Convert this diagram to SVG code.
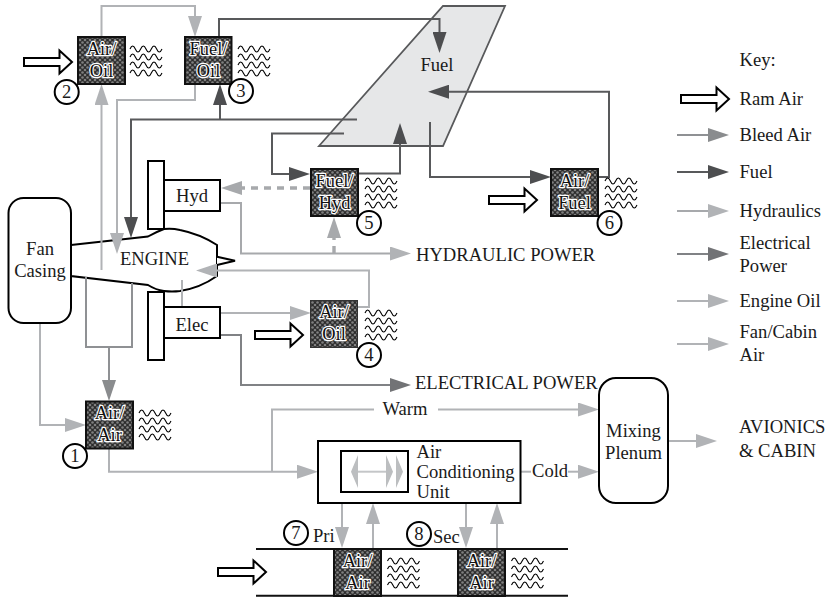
<svg xmlns="http://www.w3.org/2000/svg" xmlns:xlink="http://www.w3.org/1999/xlink" width="829" height="599" viewBox="0 0 829 599">
<style>
text{font-family:"Liberation Serif","Times New Roman",serif;font-size:18.6px;fill:#1a1a1a}
.m{text-anchor:middle}
.hx{font-size:18.4px;text-anchor:middle;fill:#111;stroke:#fff;stroke-width:2.4px;paint-order:stroke;stroke-linejoin:round}
.box{fill:url(#hatch);stroke:#111;stroke-width:2}
.shape{fill:#fff;stroke:#000;stroke-width:2}
.c{fill:none;stroke-width:2}
.fuel{stroke:#58595b;marker-end:url(#aFuel)}
.fuelp{stroke:#58595b}
.oil{stroke:#b1b3b6;marker-end:url(#aOil)}
.oilp{stroke:#b1b3b6}
.bleed{stroke:#8f9194;marker-end:url(#aBleed)}
.bleedp{stroke:#8f9194}
.elec{stroke:#808285;marker-end:url(#aElec)}
.hyd{stroke:#a7a9ac;marker-end:url(#aOil)}
.dash{stroke:#a7a9ac;stroke-width:3.4;stroke-dasharray:7 6;marker-end:url(#aHyd)}
.num{fill:#fff;stroke:#000;stroke-width:2}
.wv{fill:none;stroke:#000;stroke-width:1.1}
</style>
<defs>
<pattern id="hatch" width="5" height="5" patternUnits="userSpaceOnUse">
<rect width="5" height="5" fill="#2c2c2c"/>
<circle cx="0" cy="0" r="1.3" fill="#808080"/><circle cx="5" cy="0" r="1.3" fill="#808080"/><circle cx="0" cy="5" r="1.3" fill="#808080"/><circle cx="5" cy="5" r="1.3" fill="#808080"/><circle cx="2.500" cy="2.500" r="1.3" fill="#808080"/>
</pattern>
<marker id="aFuel" markerUnits="userSpaceOnUse" markerWidth="21" markerHeight="14" refX="0" refY="7" orient="auto"><path d="M0,0L21,7L0,14Z" fill="#4d4e50"/></marker>
<marker id="aOil" markerUnits="userSpaceOnUse" markerWidth="21" markerHeight="14" refX="0" refY="7" orient="auto"><path d="M0,0L21,7L0,14Z" fill="#b1b3b6"/></marker>
<marker id="aHyd" markerUnits="userSpaceOnUse" markerWidth="21" markerHeight="14" refX="0" refY="7" orient="auto"><path d="M0,0L21,7L0,14Z" fill="#a7a9ac"/></marker>
<marker id="aBleed" markerUnits="userSpaceOnUse" markerWidth="21" markerHeight="14" refX="0" refY="7" orient="auto"><path d="M0,0L21,7L0,14Z" fill="#8a8c8e"/></marker>
<marker id="aElec" markerUnits="userSpaceOnUse" markerWidth="21" markerHeight="14" refX="0" refY="7" orient="auto"><path d="M0,0L21,7L0,14Z" fill="#727376"/></marker>
<path id="ram" d="M0,-4H35.500V-11.500L48,0L35.500,11.500V4H0Z" fill="#fff" stroke="#000" stroke-width="2"/>
<g id="waves" class="wv">
<path d="M0,0q2.670,-6 5.330,0t5.330,0t5.330,0t5.330,0t5.330,0t5.330,0"/>
<path d="M0,8q2.670,-6 5.330,0t5.330,0t5.330,0t5.330,0t5.330,0t5.330,0"/>
<path d="M0,16q2.670,-6 5.330,0t5.330,0t5.330,0t5.330,0t5.330,0t5.330,0"/>
<path d="M0,24q2.670,-6 5.330,0t5.330,0t5.330,0t5.330,0t5.330,0t5.330,0"/>
</g>
</defs>
<rect width="829" height="599" fill="#fff"/>

<g id="wing">
<path d="M443,6H505L443,146H319Z" fill="#e6e7e8" stroke="#58595b" stroke-width="1.8"/>
<text x="437" y="71" class="m">Fuel</text>
</g>
<g id="engine">
<path d="M71,245L148,236.500Q156,232 164,229Q172,228 180,230Q200,234 217,245V276Q200,288 180,291Q172,292 164,291Q156,290 148,285L71,276Z" fill="#fff" stroke="#000" stroke-width="2"/>
<path d="M217,256.700L235,260.700L217,265" fill="#fff" stroke="#000" stroke-width="2"/>
<text x="154.500" y="265" class="m">ENGINE</text>
</g>

<g id="connectors">
<path class="c oil" d="M101.500,37V6H195V16"/>
<path class="c oil" d="M101.500,270V105"/>
<path class="c oil" d="M195,84V100H117V233"/>
<path class="c oil" d="M40,323V425H65"/>
<path class="c bleed" d="M109,347V380"/>
<path class="c bleedp" d="M86,277V347H132V283"/>
<path class="c fuel" d="M219,37V19H439.500V32"/>
<path class="c fuel" d="M220,120V105"/>
<path class="c fuel" d="M357,119.500H131V217"/>
<path class="c fuel" d="M344,133.500H272V174H289"/>
<path class="c fuel" d="M358,173.500H400V144"/>
<path class="c fuel" d="M430,122V177H530"/>
<path class="c fuel" d="M598,177H609V91.700H449"/>
<path class="c hyd" d="M220,203H241V253.500H390"/>
<path class="c elec" d="M220,335H241V385H390"/>
<path class="c dash" d="M310,188H242"/>
<path class="c dash" d="M334,253V238"/>
<path class="c oil" d="M358,307H369V270.500H217"/>
<path class="c oil" d="M182,280V313H290"/>
<path class="c oil" d="M109,449V471.700H297"/>
<path class="c oilp" d="M272,471.700V409.500H374"/>
<path class="c oil" d="M438,409.500H578"/>
<path class="c oilp" d="M521,471.700H531"/>
<path class="c oil" d="M568,471.700H578"/>
<path class="c oil" d="M668,441H696"/>
<path class="c oil" d="M342,503V527"/>
<path class="c oil" d="M373,549V524"/>
<path class="c oil" d="M466,503V527"/>
<path class="c oil" d="M497,549V524"/>
<path class="c fuelp" d="M256,549H568M256,595.700H568" style="stroke:#111"/>
</g>

<g id="fan-casing">
<rect x="8.500" y="198" width="62.500" height="125" rx="15" class="shape"/>
<text x="40" y="255" class="m">Fan</text><text x="40" y="277" class="m">Casing</text>
</g>
<g id="hyd">
<rect x="148" y="161" width="16" height="68" class="shape"/>
<rect x="164" y="180" width="56" height="31" class="shape"/>
<text x="192" y="202" class="m">Hyd</text>
</g>
<g id="elec">
<rect x="148" y="292" width="16" height="68" class="shape"/>
<rect x="164" y="307" width="56" height="31" class="shape"/>
<text x="192" y="331" class="m">Elec</text>
</g>

<g id="hx2">
<use href="#ram" x="24" y="62"/>
<rect x="78" y="37" width="47" height="47" class="box"/>
<text x="101.500" y="55" class="hx">Air/</text><text x="101.500" y="77" class="hx">Oil</text>
<use href="#waves" x="130" y="49"/>
<circle cx="66.700" cy="92" r="12" class="num"/><text x="66.700" y="98" class="m">2</text>
</g>
<g id="hx3">
<rect x="185" y="37" width="46.500" height="47" class="box"/>
<text x="208.500" y="55" class="hx">Fuel/</text><text x="208.500" y="77" class="hx">Oil</text>
<use href="#waves" x="238" y="49"/>
<circle cx="241" cy="91" r="12" class="num"/><text x="241" y="97" class="m">3</text>
</g>
<g id="hx5">
<rect x="311" y="169" width="47" height="47" class="box"/>
<text x="334.500" y="187" class="hx">Fuel/</text><text x="334.500" y="209" class="hx">Hyd</text>
<use href="#waves" x="365" y="181"/>
<circle cx="369" cy="223" r="12" class="num"/><text x="369" y="229" class="m">5</text>
</g>
<g id="hx6">
<use href="#ram" x="489" y="200"/>
<rect x="551" y="169" width="47" height="47" class="box"/>
<text x="574.500" y="187" class="hx">Air/</text><text x="574.500" y="209" class="hx">Fuel</text>
<use href="#waves" x="605" y="181"/>
<circle cx="609.500" cy="223" r="12" class="num"/><text x="609.500" y="229" class="m">6</text>
</g>
<g id="hx4">
<use href="#ram" x="255" y="335"/>
<rect x="310.500" y="300.500" width="47" height="47" class="box" style="stroke:#333;stroke-width:1"/>
<text x="334" y="318" class="hx">Air/</text><text x="334" y="340" class="hx">Oil</text>
<use href="#waves" x="365" y="313"/>
<circle cx="369" cy="355" r="12" class="num"/><text x="369" y="361" class="m">4</text>
</g>
<g id="hx1">
<rect x="86" y="401.500" width="47" height="47" class="box"/>
<text x="109.500" y="419" class="hx">Air/</text><text x="109.500" y="441" class="hx">Air</text>
<use href="#waves" x="139" y="413"/>
<circle cx="75" cy="456" r="12" class="num"/><text x="75" y="462" class="m">1</text>
</g>
<g id="hx7">
<use href="#ram" x="218" y="572"/>
<rect x="334" y="549" width="47" height="47" class="box"/>
<text x="357.500" y="567" class="hx">Air/</text><text x="357.500" y="589" class="hx">Air</text>
<use href="#waves" x="387.500" y="561"/>
<circle cx="296" cy="533" r="12" class="num"/><text x="296" y="539" class="m">7</text>
<text x="313" y="542">Pri</text>
</g>
<g id="hx8">
<rect x="458" y="549" width="47" height="47" class="box"/>
<text x="481.500" y="567" class="hx">Air/</text><text x="481.500" y="589" class="hx">Air</text>
<use href="#waves" x="511.500" y="561"/>
<circle cx="419" cy="534" r="12" class="num"/><text x="419" y="540" class="m">8</text>
<text x="433" y="543">Sec</text>
</g>

<g id="ac-unit">
<rect x="318" y="441" width="202.500" height="62" class="shape"/>
<rect x="341" y="451" width="67" height="41" fill="#fff" stroke="#000" stroke-width="2"/>
<path d="M358,471.700H386" stroke="#c4c6c8" stroke-width="2" fill="none"/>
<path d="M351,471.700L358,455V488ZM386,455L393,471.700L386,488ZM396,455L403,471.700L396,488Z" fill="#bcbec0"/>
<text x="416.500" y="458">Air</text><text x="416.500" y="478">Conditioning</text><text x="416.500" y="498">Unit</text>
</g>
<g id="mixing-plenum">
<rect x="599" y="378" width="69" height="125" rx="17" class="shape"/>
<text x="633.500" y="437" class="m">Mixing</text><text x="633.500" y="459" class="m">Plenum</text>
</g>

<g id="labels">
<text x="416" y="261">HYDRAULIC POWER</text>
<text x="415" y="389">ELECTRICAL POWER</text>
<text x="382.500" y="415">Warm</text>
<text x="532" y="477">Cold</text>
<text x="739" y="433">AVIONICS</text>
<text x="739" y="457">&amp; CABIN</text>
</g>

<g id="key">
<text x="739.500" y="66">Key:</text>
<use href="#ram" x="681" y="99"/>
<text x="739.500" y="105">Ram Air</text>
<path class="c bleed" d="M677,135H708"/>
<text x="739.500" y="141">Bleed Air</text>
<path class="c fuel" d="M677,172H708"/>
<text x="739.500" y="178">Fuel</text>
<path class="c hyd" d="M677,211H708"/>
<text x="739.500" y="217">Hydraulics</text>
<path class="c elec" d="M677,254H708"/>
<text x="739.500" y="249">Electrical</text>
<text x="739.500" y="272">Power</text>
<path class="c oil" d="M677,301H708"/>
<text x="739.500" y="307">Engine Oil</text>
<path class="c oil" d="M677,344H708"/>
<text x="739.500" y="338">Fan/Cabin</text>
<text x="739.500" y="361">Air</text>
</g>
</svg>
